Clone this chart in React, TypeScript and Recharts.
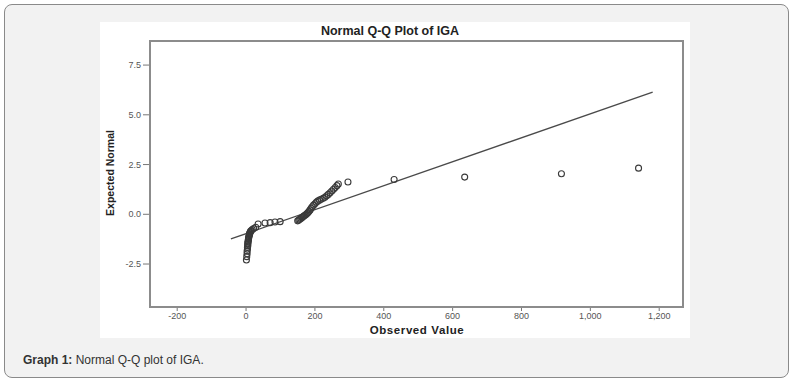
import { ScatterChart, Scatter, XAxis, YAxis, ReferenceLine } from 'recharts'

const observed = [
  1, 2, 3, 3, 4, 4, 5, 5, 5, 6, 6, 7, 7, 8, 8, 9, 10, 10, 11, 12, 13, 15, 18, 22, 28,
  35, 55, 70, 84, 99,
  150, 153, 156, 159, 162, 165, 168, 171, 174, 177, 180, 183, 186, 189, 192, 196, 200,
  204, 208, 213, 218, 224, 229, 234, 239, 244, 249, 254, 259, 264, 268,
  296, 430, 635, 916, 1140,
]
const expected = [
  -2.3, -2.13, -1.98, -1.86, -1.76, -1.67, -1.59, -1.52, -1.45, -1.39, -1.33, -1.27, -1.22,
  -1.17, -1.12, -1.07, -1.02, -0.98, -0.94, -0.9, -0.86, -0.82, -0.77, -0.72, -0.65,
  -0.49, -0.44, -0.42, -0.39, -0.37,
  -0.33, -0.29, -0.25, -0.21, -0.17, -0.13, -0.09, -0.05, -0.01, 0.04, 0.09, 0.15, 0.22,
  0.3, 0.38, 0.46, 0.53, 0.6, 0.66, 0.71, 0.75, 0.8, 0.86, 0.93, 1.0, 1.08, 1.17, 1.26,
  1.35, 1.44, 1.52,
  1.62, 1.75, 1.87, 2.04, 2.32,
]

const xTicks = [-200, 0, 200, 400, 600, 800, 1000, 1200]
const yTicks = [-2.5, 0, 2.5, 5, 7.5]

// reference line end points
const fitX = [-44, 1181]
const fitY = [-1.24, 6.14]

const points = observed.map((x, i) => ({ x, y: expected[i] }))

const FONT = "'Liberation Sans', Arial, sans-serif"

const OpenCircle = (props: any) => (
  <circle cx={props.cx} cy={props.cy} r={3} fill="none" stroke="#3a3a3a" strokeWidth={1.1} />
)

export default function App() {
  return (
    <div style={{ position: 'absolute', left: 0, top: 0, width: 797, height: 382, fontFamily: FONT }}>
      <div
        style={{
          position: 'absolute', left: 4, top: 4, width: 785, height: 374, boxSizing: 'border-box',
          background: '#f2f2f2', border: '1px solid #8a8a8a', borderRadius: 8,
        }}
      />
      <div style={{ position: 'absolute', left: 100, top: 22, width: 590, height: 316, background: '#fff' }} />
      <div
        style={{
          position: 'absolute', left: 100, top: 24, width: 580, textAlign: 'center',
          fontSize: 12.5, fontWeight: 'bold', color: '#222',
        }}
      >
        Normal Q-Q Plot of IGA
      </div>
      <div
        style={{
          position: 'absolute', left: 110, top: 174, width: 0, height: 0,
        }}
      >
        <div
          style={{
            position: 'absolute', left: -60, top: -7, width: 120, textAlign: 'center',
            transform: 'rotate(-90deg)', fontSize: 10.5, fontWeight: 'bold', color: '#222',
            fontFamily: "'Liberation Sans Narrow', 'Liberation Sans', Arial, sans-serif",
          }}
        >
          Expected Normal
        </div>
      </div>
      <div
        style={{
          position: 'absolute', left: 150, top: 324, width: 534, textAlign: 'center',
          fontSize: 11.5, fontWeight: 'bold', color: '#222', letterSpacing: 0.6,
        }}
      >
        Observed Value
      </div>
      <div style={{ position: 'absolute', left: 23, top: 353, fontSize: 12, color: '#333' }}>
        <b>Graph 1:</b> Normal Q-Q plot of IGA.
      </div>

      <div style={{ position: 'absolute', left: 0, top: 0 }}>
        <ScatterChart width={797} height={382} margin={{ top: 41, right: 113, bottom: 45, left: 110 }}>
          <XAxis
            type="number"
            dataKey="x"
            domain={[-279, 1272]}
            ticks={xTicks}
            allowDataOverflow
            axisLine={false}
            tickSize={4}
            tickLine={{ stroke: '#777' }}
            height={30}
            tick={{ fontSize: 9, fill: '#555', fontFamily: FONT }}
            tickFormatter={(v: number) => v.toLocaleString('en-US')}
          />
          <YAxis
            type="number"
            dataKey="y"
            domain={[-4.66, 8.71]}
            ticks={yTicks}
            allowDataOverflow
            axisLine={false}
            tickSize={7}
            tickLine={{ stroke: '#777' }}
            width={40}
            tick={{ fontSize: 9, fill: '#555', fontFamily: FONT }}
            tickFormatter={(v: number) => v.toFixed(1)}
          />
          <ReferenceLine
            segment={[{ x: fitX[0], y: fitY[0] }, { x: fitX[1], y: fitY[1] }]}
            stroke="#4a4a4a"
            strokeWidth={1.3}
            ifOverflow="visible"
          />
          <Scatter data={points} shape={OpenCircle} isAnimationActive={false} />
        </ScatterChart>
      </div>

      <div
        style={{
          position: 'absolute', left: 149, top: 40, width: 535, height: 268, boxSizing: 'border-box',
          border: '2px solid #8c8c8c', pointerEvents: 'none',
        }}
      />
    </div>
  )
}
